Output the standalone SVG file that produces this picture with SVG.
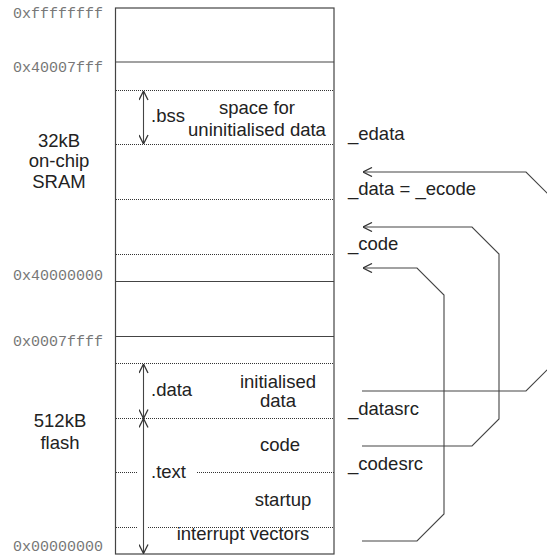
<svg xmlns="http://www.w3.org/2000/svg" width="547" height="555" viewBox="0 0 547 555">
<style>
.t{font-family:"Liberation Sans",Arial,sans-serif;font-size:18.5px;fill:#222}
.m{text-anchor:middle}
.a{font-family:"Liberation Mono","Courier New",monospace;font-size:15px;fill:#777;text-anchor:end}
.solid{stroke:#444;stroke-width:1.2;fill:none}
.dot{stroke:#333;stroke-width:1;stroke-dasharray:1 1;fill:none}
.con{stroke:#444;stroke-width:1.1;fill:none}
.dim{stroke:#444;stroke-width:1.1;fill:none;marker-start:url(#ah);marker-end:url(#ah)}
</style>
<defs>
<marker id="ah" viewBox="0 0 10 10" refX="10" refY="5" markerWidth="10" markerHeight="10" markerUnits="userSpaceOnUse" orient="auto-start-reverse">
<path d="M1,0.5 L10,5 L1,9.5" fill="none" stroke="#333" stroke-width="1.3"/>
</marker>
</defs>
<rect x="0" y="0" width="547" height="555" fill="#fff"/>

<g id="memory-map">
<rect x="115.5" y="8" width="218.5" height="546" fill="#fff" class="solid"/>
<line x1="115.5" y1="62" x2="334" y2="62" class="solid"/>
<line x1="115.5" y1="281.5" x2="334" y2="281.5" class="solid"/>
<line x1="115.5" y1="336.5" x2="334" y2="336.5" class="solid"/>
</g>

<g id="addresses">
<text class="a" x="103" y="18">0xffffffff</text>
<text class="a" x="103" y="72">0x40007fff</text>
<text class="a" x="103" y="280">0x40000000</text>
<text class="a" x="103" y="346">0x0007ffff</text>
<text class="a" x="103" y="551">0x00000000</text>
</g>

<g id="sram-label">
<text class="t m" x="59" y="147">32kB</text>
<text class="t m" x="59" y="167">on-chip</text>
<text class="t m" x="59" y="188">SRAM</text>
</g>

<g id="flash-label">
<text class="t m" x="60" y="427">512kB</text>
<text class="t m" x="60" y="449">flash</text>
</g>

<g id="bss">
<line x1="116" y1="90.5" x2="334" y2="90.5" class="dot"/>
<line x1="116" y1="144.5" x2="334" y2="144.5" class="dot"/>
<line x1="143.5" y1="91" x2="143.5" y2="144" class="dim"/>
<text class="t" x="151" y="122">.bss</text>
<text class="t m" x="257" y="114">space for</text>
<text class="t m" x="257" y="136">uninitialised data</text>
</g>

<g id="sram-lines">
<line x1="116" y1="199.5" x2="334" y2="199.5" class="dot"/>
<line x1="116" y1="254.5" x2="334" y2="254.5" class="dot"/>
</g>

<g id="data">
<line x1="116" y1="363.5" x2="334" y2="363.5" class="dot"/>
<line x1="116" y1="418.5" x2="334" y2="418.5" class="dot"/>
<line x1="143.5" y1="364" x2="143.5" y2="418.5" class="dim"/>
<text class="t" x="151" y="396">.data</text>
<text class="t m" x="278" y="388">initialised</text>
<text class="t m" x="278" y="407">data</text>
</g>

<g id="text">
<line x1="143.5" y1="418.5" x2="143.5" y2="553.5" class="dim"/>
<text class="t" x="151" y="478">.text</text>
<text class="t m" x="280" y="451">code</text>
<line x1="116" y1="472.5" x2="138" y2="472.5" class="dot"/>
<line x1="197" y1="472.5" x2="334" y2="472.5" class="dot"/>
<text class="t m" x="283" y="506">startup</text>
<line x1="116" y1="527.5" x2="138" y2="527.5" class="dot"/>
<line x1="148" y1="527.5" x2="334" y2="527.5" class="dot"/>
<text class="t m" x="243" y="540">interrupt vectors</text>
</g>

<g id="symbols">
<text class="t" x="348" y="140">_edata</text>
<text class="t" x="348" y="195">_data = _ecode</text>
<text class="t" x="348" y="250">_code</text>
<text class="t" x="348" y="415">_datasrc</text>
<text class="t" x="348" y="470">_codesrc</text>
</g>

<g id="connectors">
<path class="con" d="M362,391 H526 L553,364 V199 L526,172 H363" marker-end="url(#ah)"/>
<path class="con" d="M362,446 H472 L499,419 V254 L472,227 H363" marker-end="url(#ah)"/>
<path class="con" d="M362,541 H417 L444,514 V295 L417,268 H363" marker-end="url(#ah)"/>
</g>
</svg>
